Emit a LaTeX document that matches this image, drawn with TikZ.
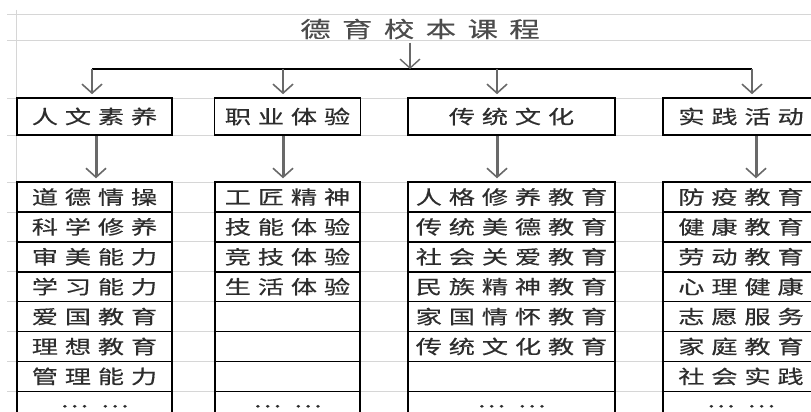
\documentclass[tikz,border=0pt]{standalone}
\usepackage{fontspec}
\usepackage{xcolor}
\usepackage{tikz}
\usetikzlibrary{arrows.meta}
\newfontfamily\cjk[FakeStretch=1.38,LetterSpace=36,FakeBold=0.5]{Noto Sans CJK SC}
\newfontfamily\cjktitle[FakeStretch=1.38,LetterSpace=52,FakeBold=0.4]{Noto Sans CJK SC}
\definecolor{lgray}{RGB}{214, 214, 214}
\definecolor{tgray}{RGB}{45, 45, 45}
\definecolor{agray}{RGB}{105, 105, 105}
\tikzset{
	grid/.style = {draw = lgray, line width = 0.8pt},
	catbox/.style = {draw, line width = 1.6pt, minimum width = #1, minimum height = 37pt, inner sep = 0pt, text = tgray, font = \cjk\fontsize{19}{20}\selectfont},
	cellbox/.style = {draw, line width = 1.5pt, minimum width = #1, minimum height = 29.9pt, inner sep = 0pt, text = tgray, font = \cjk\fontsize{19}{20}\selectfont},
	arr/.style = {draw = agray, line width = 1.6pt, -{Straight Barb[length = 9pt, width = 20pt]}},
	arrb/.style = {draw = agray, line width = 3pt, -{Straight Barb[length = 9pt, width = 20pt, line width = 1.6pt]}}
}

\begin{document}
\begin{tikzpicture}[x = 1pt, y = -1pt]
			\clip (0,0) rectangle (811,412);
			% sheet grid
			\foreach \y in {14,40,98,135,182,212,241,271,301,331,361,391}
				\draw[grid] (7,\y) -- (811,\y);
			\draw[grid] (16,10) -- (16,412);
			% title and categories
			\node (t) at (420,29) [text = tgray!85, font = \cjktitle\fontsize{22}{24}\selectfont] {德育校本课程};
			\node (a) at (94.5,116.5) [catbox = 155pt] {人文素养};
			\node (b) at (287.5,116.5) [catbox = 146pt] {职业体验};
			\node (c) at (511.5,116.5) [catbox = 207pt] {传统文化};
			\node (d) at (741,116.5) [catbox = 156pt] {实践活动};
			% items
			\foreach \txt [count = \i] in {道德情操,科学修养,审美能力,学习能力,爱国教育,理想教育,管理能力,…\ …}
				\node (a\i) at (94.5,{197+29.9*(\i-1)}) [cellbox = 155pt] {\txt};
			\foreach \txt [count = \i] in {工匠精神,技能体验,竞技体验,生活体验,{},{},{},…\ …}
				\node (b\i) at (287.5,{197+29.9*(\i-1)}) [cellbox = 145pt] {\txt};
			\foreach \txt [count = \i] in {人格修养教育,传统美德教育,社会关爱教育,民族精神教育,家国情怀教育,传统文化教育,{},…\ …}
				\node (c\i) at (511.5,{197+29.9*(\i-1)}) [cellbox = 207pt] {\txt};
			\foreach \txt [count = \i] in {防疫教育,健康教育,劳动教育,心理健康,志愿服务,家庭教育,社会实践,…\ …}
				\node (d\i) at (741,{197+29.9*(\i-1)}) [cellbox = 156pt] {\txt};
			% connectors
			\coordinate (m) at (410,69);
			\coordinate (h1) at (92,69);
			\coordinate (h2) at (283,69);
			\coordinate (h3) at (497,69);
			\coordinate (h4) at (752,69);
			\coordinate (v1) at (96,0);
			\coordinate (v2) at (283,0);
			\coordinate (v3) at (497,0);
			\coordinate (v4) at (756,0);
			\draw[line width = 1.5pt] (h1) -- (h4);
			\draw[arr, line width = 1.4pt] (t.south -| m) -- (m);
			\draw[arr] (h1) -- ([yshift = 3pt]h1 |- a.north);
			\draw[arr] (h2) -- ([yshift = 3pt]h2 |- b.north);
			\draw[arr] (h3) -- ([yshift = 3pt]h3 |- c.north);
			\draw[arr] (h4) -- ([yshift = 3pt]h4 |- d.north);
			\draw[arrb] (a.south -| v1) -- ([yshift = 3pt]v1 |- a1.north);
			\draw[arrb] (b.south -| v2) -- ([yshift = 3pt]v2 |- b1.north);
			\draw[arrb] (c.south -| v3) -- ([yshift = 3pt]v3 |- c1.north);
			\draw[arrb] (d.south -| v4) -- ([yshift = 3pt]v4 |- d1.north);
			\end{tikzpicture}
\end{document}
